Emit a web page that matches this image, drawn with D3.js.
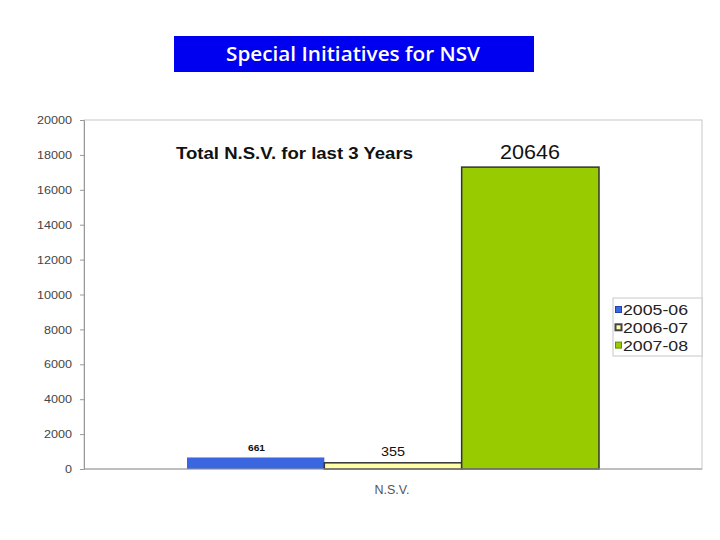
<!DOCTYPE html>
<html><head><meta charset="utf-8">
<script src="https://cdn.jsdelivr.net/npm/d3@7"></script>
<style>body{margin:0;background:#fff}svg{display:block}</style>
</head><body>
<script>
const categories = ["2005-06", "2006-07", "2007-08"];
const values = [661, 355, 17300];
const valueLabels = ["661", "355", "20646"];
const yTicks = [0, 2000, 4000, 6000, 8000, 10000, 12000, 14000, 16000, 18000, 20000];
const xCategory = "N.S.V.";
const colors = ["#3a66e0", "#ffffa8", "#99cc00"];
const strokes = ["none", "#333333", "#333333"];

const FONT = "Liberation Sans, Arial, sans-serif";
const svg = d3.select("body").append("svg").attr("width", 720).attr("height", 540);

// Title box
svg.append("rect").attr("x", 174).attr("y", 36).attr("width", 360).attr("height", 36).attr("fill", "#0000f0");
svg.append("text").attr("x", 226).attr("y", 61)
  .attr("font-family", "Open Sans, sans-serif").attr("font-weight", 600).attr("font-size", 19)
  .attr("textLength", 254).attr("lengthAdjust", "spacingAndGlyphs")
  .attr("fill", "#fff").text("Special Initiatives for NSV");

const L = 84, R = 702, T = 120, B = 469;
const y = d3.scaleLinear().domain([0, 20000]).range([B, T]);
const x = d3.scaleBand().domain(categories).range([187, 599]).padding(0);

// plot border
svg.append("rect").attr("x", L).attr("y", T).attr("width", R - L).attr("height", B - T)
  .attr("fill", "none").attr("stroke", "#c8c8c8");

// bars
svg.selectAll("rect.bar").data(categories).enter().append("rect")
  .attr("x", d => x(d)).attr("width", x.bandwidth())
  .attr("y", (d, i) => y(values[i])).attr("height", (d, i) => B - y(values[i]))
  .attr("fill", (d, i) => colors[i]).attr("stroke", (d, i) => strokes[i]).attr("stroke-width", 1.5);

// axis
const ax = svg.append("g").attr("transform", `translate(${L},0)`)
  .call(d3.axisLeft(y).tickValues(yTicks).tickSize(4).tickPadding(8).tickFormat(d3.format("d")));
ax.select(".domain").attr("stroke", "#999");
ax.selectAll(".tick line").attr("stroke", "#999");
ax.selectAll(".tick text").attr("font-family", FONT).attr("font-size", 11.5).attr("fill", "#444")
  .attr("textLength", d => String(d).length * 7).attr("lengthAdjust", "spacingAndGlyphs");
svg.append("line").attr("x1", L).attr("x2", R).attr("y1", B).attr("y2", B).attr("stroke", "#999");

// value labels
const labelStyle = [
  {fs: 9, fw: "bold", yy: 451, len: 17, cx: 256.5},
  {fs: 13, fw: "normal", yy: 456, len: 24, cx: 393},
  {fs: 19.5, fw: "normal", yy: 159, len: 60, cx: 530}
];
svg.selectAll("text.vl").data(categories).enter().append("text")
  .attr("x", (d, i) => labelStyle[i].cx - labelStyle[i].len / 2)
  .attr("y", (d, i) => labelStyle[i].yy)
  .attr("font-family", FONT)
  .attr("font-size", (d, i) => labelStyle[i].fs).attr("font-weight", (d, i) => labelStyle[i].fw)
  .attr("textLength", (d, i) => labelStyle[i].len).attr("lengthAdjust", "spacingAndGlyphs")
  .attr("fill", "#111").text((d, i) => valueLabels[i]);

svg.append("text").attr("x", 176).attr("y", 159).attr("font-family", FONT)
  .attr("font-weight", "bold").attr("font-size", 17).attr("fill", "#111")
  .attr("textLength", 237).attr("lengthAdjust", "spacingAndGlyphs")
  .text("Total N.S.V. for last 3 Years");

svg.append("text").attr("x", 392).attr("y", 494).attr("text-anchor", "middle")
  .attr("font-family", FONT).attr("font-size", 12.5).attr("fill", "#555").text(xCategory);

// legend
const lg = svg.append("g");
lg.append("rect").attr("x", 613).attr("y", 298).attr("width", 89).attr("height", 58).attr("fill", "#fff").attr("stroke", "#c8c8c8");
categories.forEach((c, i) => {
  const yy = 309.5 + i * 17.8;
  lg.append("rect").attr("x", 615.5).attr("y", yy - 3).attr("width", 6).attr("height", 6)
    .attr("fill", colors[i]).attr("stroke", i === 0 ? "#2244aa" : (i === 1 ? "#444" : "#6a8a00")).attr("stroke-width", i === 1 ? 2 : 1);
  lg.append("text").attr("x", 623).attr("y", yy + 5.5).attr("font-family", FONT)
    .attr("font-size", 15).attr("fill", "#222")
    .attr("textLength", 65).attr("lengthAdjust", "spacingAndGlyphs").text(c);
});
</script>
</body></html>
